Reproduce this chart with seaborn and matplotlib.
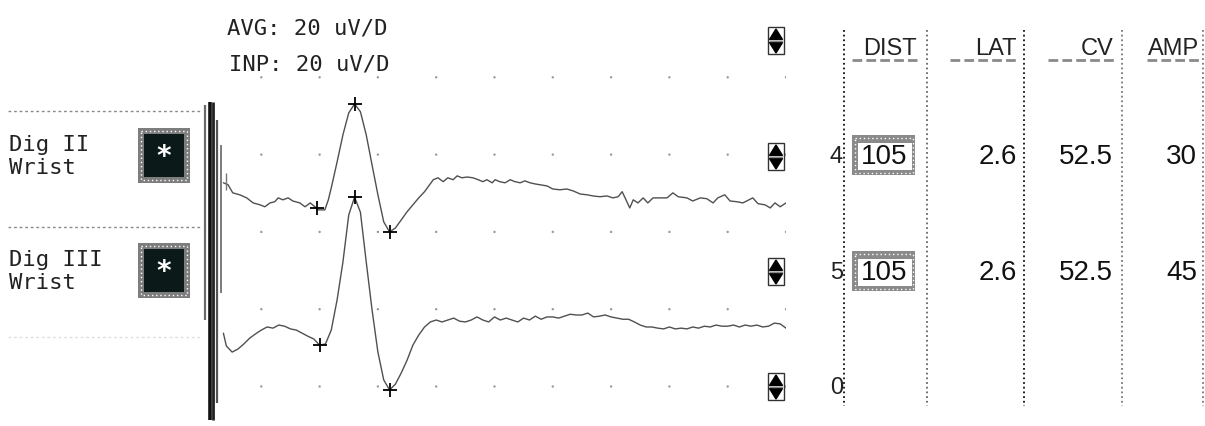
import matplotlib
matplotlib.use("Agg")
import matplotlib.pyplot as plt
import seaborn as sns
import pandas as pd
from matplotlib.patches import Rectangle, Polygon

# ---------------- data ----------------
sens_labels = ["AVG: 20 uV/D", "INP: 20 uV/D"]
channel_names = ["Dig II\nWrist", "Dig III\nWrist"]

t_dig2 = [0.35, 0.43, 0.51, 0.63, 0.75, 0.86, 0.98, 1.06, 1.15, 1.23, 1.29, 1.37, 1.46, 1.54, 1.66, 1.75,
          1.84, 1.92, 1.97, 2.09, 2.15, 2.2,
          2.3, 2.4, 2.5, 2.6, 2.7, 2.8, 2.9, 3.0, 3.1, 3.2, 3.3, 3.4, 3.5, 3.6, 3.7, 3.8,
          3.95, 4.03, 4.12, 4.20, 4.29, 4.36, 4.44, 4.53, 4.63, 4.72, 4.80, 4.87, 4.96, 5.01, 5.09, 5.18,
          5.27, 5.35, 5.44, 5.52, 5.61, 5.70, 5.78, 5.90, 6.00, 6.12, 6.24, 6.35, 6.47, 6.59, 6.69, 6.81,
          6.93, 7.03, 7.12, 7.19, 7.24, 7.32, 7.38, 7.46, 7.55, 7.63, 7.72, 7.84, 7.96, 8.06, 8.15, 8.30,
          8.40, 8.53, 8.64, 8.75, 8.83, 8.95, 9.04, 9.16, 9.26, 9.43, 9.52, 9.64, 9.73, 9.81, 9.90, 10.0]
uv_dig2 = [5.7, 5.2, 3.1, 2.6, 1.8, 0.5, 0.0, -0.5, 0.5, 0.8, 1.8, 1.3, 1.8, 1.0, 0.5, -0.5,
           0.5, -0.5, -1.3, -1.3, 1.3, 4.4,
           11.1, 18.1, 23.8, 26.1, 24.1, 18.1, 10.3, 2.6, -4.4, -7.0, -6.0, -3.9, -1.8, 0.0, 1.8, 3.4,
           6.5, 7.0, 6.0, 7.0, 6.5, 7.5, 7.0, 7.2, 7.0, 6.5, 6.0, 6.5, 5.7, 6.5, 6.0, 5.7,
           6.5, 6.0, 5.7, 6.2, 5.7, 5.4, 5.2, 4.9, 4.1, 3.9, 4.1, 3.6, 2.8, 2.6, 2.3, 2.1,
           2.3, 1.8, 2.1, 3.4, 1.8, -0.8, 1.3, 0.5, 1.8, 0.5, 1.8, 1.8, 1.8, 3.1, 2.1, 1.8,
           1.0, 1.8, 1.6, 0.5, 1.8, 2.6, 1.0, 0.8, 0.5, 1.8, 0.3, 0.0, -0.8, 0.5, -0.5, 0.5]

t_dig3 = [0.35, 0.4, 0.5, 0.6, 0.7, 0.8, 0.9, 1.0, 1.1, 1.2, 1.3, 1.4, 1.5, 1.6, 1.7, 1.8, 1.9, 2.0,
          2.1, 2.2, 2.3, 2.4, 2.5, 2.6, 2.7, 2.8, 2.9, 3.0, 3.1, 3.2, 3.3, 3.4, 3.5, 3.6, 3.7, 3.8, 3.9, 4.0,
          4.1, 4.2, 4.3, 4.4, 4.5, 4.6, 4.7, 4.8, 4.9, 5.0, 5.1, 5.2, 5.3, 5.4, 5.5, 5.6, 5.7, 5.8, 5.9, 6.0,
          6.1, 6.2, 6.3, 6.4, 6.5, 6.6, 6.7, 6.8, 6.9, 7.0, 7.1, 7.2, 7.3, 7.4, 7.5, 7.6, 7.7, 7.8, 7.9, 8.0,
          8.1, 8.2, 8.3, 8.4, 8.5, 8.6, 8.7, 8.8, 8.9, 9.0, 9.1, 9.2, 9.3, 9.4, 9.5, 9.6, 9.7, 9.8, 9.9, 10.0]
uv_dig3 = [-0.8, -4.1,
           -5.7, -4.9, -3.6, -2.1, -1.0, 0.0, 0.8, 0.5, 1.3, 1.0, 0.3, 0.0, -0.8, -1.6, -2.3, -3.9,
           -3.6, 0.0, 7.8, 17.6, 29.8, 34.4, 30.5, 17.6, 5.2, -5.7,
           -12.9, -15.5, -14.0, -11.1, -7.8, -3.9, -1.3, 0.8, 2.1, 2.6,
           2.1, 2.6, 3.1, 2.3, 2.1, 2.6, 3.4, 2.6, 2.1, 3.4,
           2.6, 3.1, 2.6, 2.1, 3.1, 2.6, 3.6, 2.8, 3.4, 3.4,
           3.1, 3.6, 4.1, 3.9, 3.9, 4.4, 3.4, 3.6, 3.9, 3.4,
           3.1, 2.8, 2.8, 2.1, 1.3, 0.8, 0.8, 0.5, 0.3, 0.8,
           0.3, 0.5, 0.3, 0.8, 0.5, 1.0, 0.8, 1.3, 1.0, 1.0,
           1.3, 0.8, 1.3, 1.0, 1.3, 0.8, 1.0, 1.8, 1.6, 0.5]

# cursor marks (onset, peak, trough) per channel
mark_t_dig2 = [1.95, 2.6, 3.2]
mark_uv_dig2 = [-0.8, 26.1, -7.0]
mark_t_dig3 = [2.0, 2.6, 3.2]
mark_uv_dig3 = [-3.9, 34.4, -15.5]

# stimulus artifact (time in ms, top / bottom in display uV)
artifact_t = [0.04, 0.12, 0.17, 0.24, 0.31, 0.39]
artifact_top = [-27.2, -26.4, -26.4, -31.0, -37.5, -44.8]
artifact_bottom = [-82.8, -108.7, -108.7, -104.3, -75.8, -49.2]

# table
row_ids = ["4", "5", "0"]
col_heads = ["DIST", "LAT", "CV", "AMP"]
dist_vals = ["105", "105"]
lat_vals = ["2.6", "2.6"]
cv_vals = ["52.5", "52.5"]
amp_vals = ["30", "45"]

# ---------------- layout ----------------
W, H = 1205, 426
PX_PER_UV = 77.3 / 20.0
channel_offset = [-53.0, -85.4]   # display baseline of each trace

sns.set_theme(style="white")
plt.rcParams["font.family"] = ["DejaVu Sans Mono", "DejaVu Sans"]

fig = plt.figure(figsize=(W / 100, H / 100), dpi=100)
fig.patch.set_facecolor("white")

ax = fig.add_axes([203 / W, 0, 583 / W, 1])
ax.set_xlim(0, 10)
ax.set_ylim(-H / PX_PER_UV, 0)
ax.axis("off")

df = pd.concat([
    pd.DataFrame({"t": t_dig2, "y": [v + channel_offset[0] for v in uv_dig2], "ch": "Dig II"}),
    pd.DataFrame({"t": t_dig3, "y": [v + channel_offset[1] for v in uv_dig3], "ch": "Dig III"}),
])
sns.lineplot(data=df, x="t", y="y", hue="ch", palette=["#505050", "#505050"],
             estimator=None, sort=False, legend=False, lw=1.0, ax=ax)

# grid dots
gx, gy = [], []
for i in range(1, 11):
    for j in range(1, 6):
        gx.append(i)
        gy.append(-20 * j)
sns.scatterplot(x=gx, y=gy, s=3, color="#9a9a9a", edgecolor="none", ax=ax, legend=False)

# cursors
mk = pd.DataFrame({"t": mark_t_dig2 + mark_t_dig3,
                   "y": [v + channel_offset[0] for v in mark_uv_dig2] + [v + channel_offset[1] for v in mark_uv_dig3]})
sns.scatterplot(data=mk, x="t", y="y", marker="+", s=110, color="black", linewidth=1.3, ax=ax, legend=False,
                zorder=5)

# artifact
art_lw = [1.6, 2.6, 2.0, 1.6, 1.2, 1.0]
art_col = ["#6a6a6a", "#111111", "#222222", "#555555", "#666666", "#777777"]
for tt, y0, y1, lw, c in zip(artifact_t, artifact_top, artifact_bottom, art_lw, art_col):
    ax.plot([tt, tt], [y0, y1], color=c, lw=lw, solid_capstyle="butt")

# ---------------- overlay (decorations) ----------------
ov = fig.add_axes([0, 0, 1, 1])
ov.set_xlim(0, W)
ov.set_ylim(H, 0)
ov.axis("off")
ov.patch.set_alpha(0)

ov.text(227, 29, sens_labels[0], fontsize=16, va="center", ha="left", color="#222222")
ov.text(229, 64, sens_labels[1], fontsize=16, va="center", ha="left", color="#222222")

# channel labels
for name, ytop in zip(channel_names, [135, 250]):
    ov.text(9, ytop, name, fontsize=16, va="top", ha="left", color="#222222", linespacing=1.2)

# dashed separators
for y, c in [(111, "#8a8a8a"), (227, "#8a8a8a"), (337, "#e0e0e0")]:
    ov.plot([8, 200], [y, y], color=c, lw=1.0, ls=(0, (2, 2)))

# star boxes
for y0 in [128, 243]:
    ov.add_patch(Rectangle((138, y0), 52, 55, facecolor="#7d7d7d", edgecolor="none"))
    ov.add_patch(Rectangle((141, y0 + 3), 46, 49, facecolor="none", edgecolor="white", lw=1.0, ls=(0, (1, 2))))
    ov.add_patch(Rectangle((144, y0 + 6), 40, 43, facecolor="#0b1a18", edgecolor="none"))
    ov.text(164, y0 + 29, "*", fontsize=20, color="white", ha="center", va="center", fontweight="bold")

# up/down icons
for y0 in [27, 143, 258, 373]:
    ov.add_patch(Rectangle((768, y0), 16, 27, facecolor="white", edgecolor="#333333", lw=1.0))
    ov.add_patch(Polygon([[769.5, y0 + 12.5], [782.5, y0 + 12.5], [776, y0 + 2]], closed=True, color="black"))
    ov.add_patch(Polygon([[769.5, y0 + 15.5], [782.5, y0 + 15.5], [776, y0 + 26]], closed=True, color="black"))
    ov.plot([770, 782], [y0 + 14, y0 + 14], color="#888888", lw=1.0)

# table vertical dotted lines
for x, c in [(844, "#111111"), (927, "#666666"), (1024, "#111111"), (1122, "#777777"), (1203, "#777777")]:
    ov.plot([x, x], [30, 406], color=c, lw=1.3, ls=(0, (1, 1.6)))

# headers
narrow = ["Liberation Sans", "DejaVu Sans"]
head_right = [917, 1017, 1114, 1199]
dash_left = [852, 950, 1048, 1147]
for h, xr, xl in zip(col_heads, head_right, dash_left):
    ov.text(xr, 55, h, fontsize=17, family=narrow, ha="right", va="baseline", color="#222222")
    ov.plot([xl, xr], [60, 60], color="#8a8a8a", lw=2.0, ls=(0, (3.5, 1.5)))

row_y = [157, 273, 388]
for rid, y in zip(row_ids, row_y):
    ov.text(843, y, rid, fontsize=17, family=narrow, ha="right", va="center", color="#222222")

for i, y in enumerate(row_y[:2]):
    ov.add_patch(Rectangle((852, y - 22), 63, 40, facecolor="#8a8a8a", edgecolor="none"))
    ov.add_patch(Rectangle((854.5, y - 19.5), 58, 35, facecolor="none", edgecolor="white", lw=1.0, ls=(0, (1, 2))))
    ov.add_patch(Rectangle((858, y - 14), 54, 27, facecolor="white", edgecolor="none"))
    ov.text(884, y, dist_vals[i], fontsize=20, family=narrow, ha="center", va="center", color="#111111")
    ov.text(1017, y, lat_vals[i], fontsize=20, family=narrow, ha="right", va="center", color="#111111")
    ov.text(1113, y, cv_vals[i], fontsize=20, family=narrow, ha="right", va="center", color="#111111")
    ov.text(1197, y, amp_vals[i], fontsize=20, family=narrow, ha="right", va="center", color="#111111")

fig.savefig("out.png", dpi=100, facecolor="white")
